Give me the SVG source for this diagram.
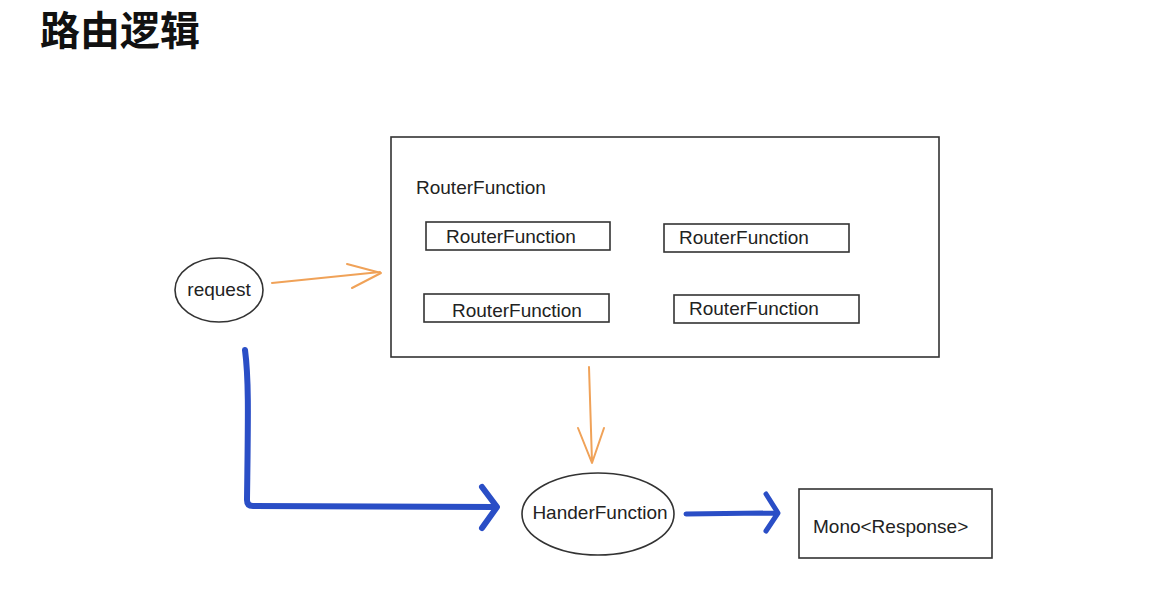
<svg xmlns="http://www.w3.org/2000/svg" width="1174" height="611" viewBox="0 0 1174 611">
<style>
.t{font-family:"Liberation Sans",Arial,sans-serif;font-size:19px;fill:#222}
.box{fill:#fff;stroke:#333;stroke-width:1.6}
.or{fill:none;stroke:#f0a258;stroke-width:2;stroke-linecap:round;stroke-linejoin:round}
.bl{fill:none;stroke:#2a4ec6;stroke-width:6;stroke-linecap:round;stroke-linejoin:round}
</style>
<rect width="1174" height="611" fill="#fff"/>
<text x="40" y="45" style="font-family:'Noto Sans CJK SC',sans-serif;font-size:40px;font-weight:bold;fill:#111">路由逻辑</text>
<g id="router">
<rect class="box" x="391" y="137" width="548" height="220"/>
<text class="t" x="416" y="194">RouterFunction</text>
</g>
<g id="rf1"><rect class="box" x="426" y="222" width="184" height="28"/><text class="t" x="446" y="243">RouterFunction</text></g>
<g id="rf2"><rect class="box" x="664" y="224" width="185" height="28"/><text class="t" x="679" y="244">RouterFunction</text></g>
<g id="rf3"><rect class="box" x="424" y="294" width="185" height="28"/><text class="t" x="452" y="317">RouterFunction</text></g>
<g id="rf4"><rect class="box" x="674" y="295" width="185" height="28"/><text class="t" x="689" y="315">RouterFunction</text></g>
<g id="request"><ellipse class="box" cx="219" cy="290" rx="44" ry="32"/><text class="t" x="219" y="296" text-anchor="middle">request</text></g>
<g id="handler"><ellipse class="box" cx="598" cy="514" rx="76" ry="41"/><text class="t" x="600" y="519" text-anchor="middle">HanderFunction</text></g>
<g id="mono"><rect class="box" x="799" y="489" width="193" height="69"/><text class="t" x="813" y="533">Mono&lt;Response&gt;</text></g>
<g id="connectors">
<path class="or" d="M272 283 L380 272 M347 264 L381 273 L352 288"/>
<path class="or" d="M589 367 L592 462 M578 428 L592 463 L604 428"/>
<path class="bl" d="M245 350 C249 380 248 420 247 500 Q247 506 253 506 L494 507 M482 487 L497 507 L482 528"/>
<path class="bl" d="M686 514 L775 513 M766 494 L778 513 L766 531" style="stroke-width:5"/>
</g>
</svg>
